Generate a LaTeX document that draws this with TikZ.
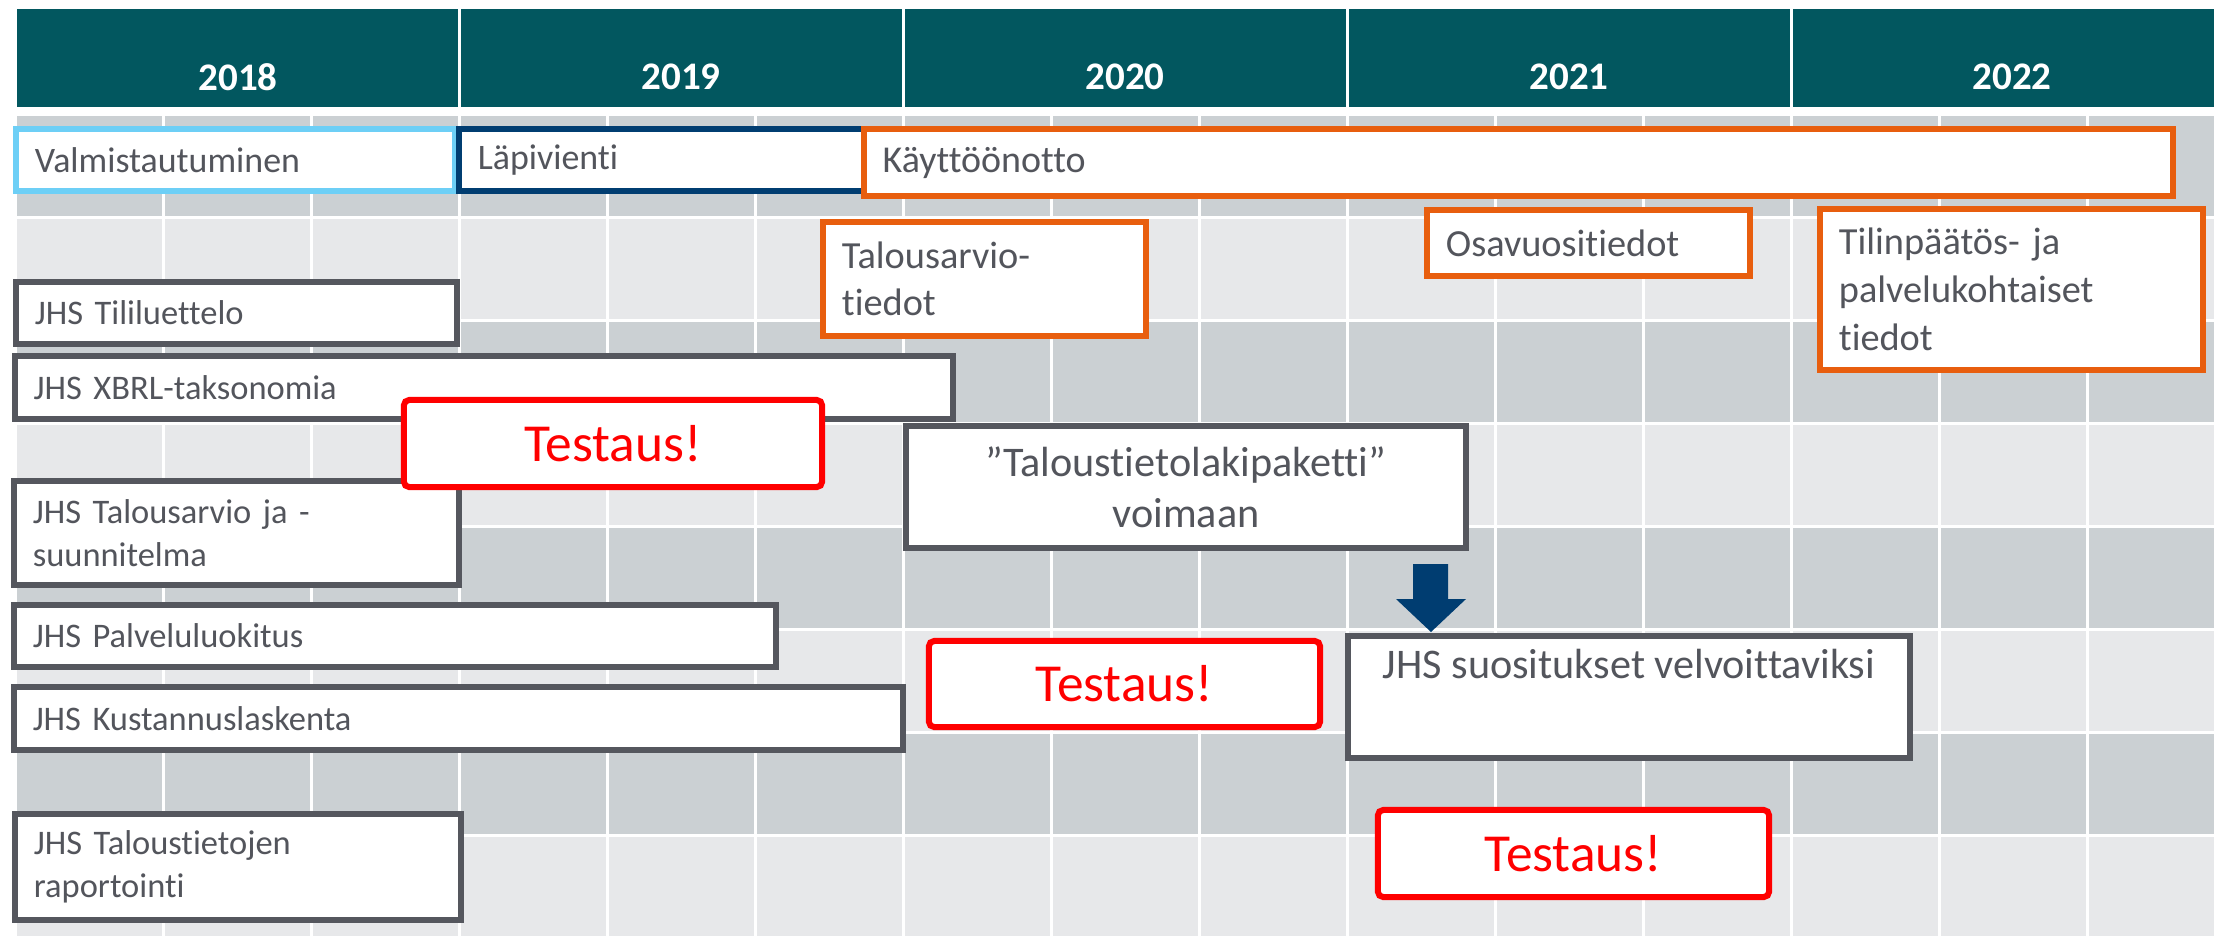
\documentclass[tikz,border=0pt]{standalone}
\usepackage{fontspec}
\setmainfont{Carlito}[Ligatures={NoCommon}]
\definecolor{teal}{HTML}{02575F}
\definecolor{bgdark}{HTML}{CBD0D3}
\definecolor{bglight}{HTML}{E7E8EA}
\definecolor{ltblue}{HTML}{6DCFF6}
\definecolor{navy}{HTML}{003D71}
\definecolor{orng}{HTML}{E85E0E}
\definecolor{gry}{HTML}{55575E}
\definecolor{txt}{HTML}{53555C}
\tikzset{
  bx/.style={draw, line width=0.06cm, fill=white, inner xsep=0.19cm, inner ysep=0pt, text=txt, align=left},
  jhs/.style={bx, draw=gry, font=\fontsize{9.8}{12.3}\selectfont},
  phase/.style={bx, font=\fontsize{10.2}{12.5}\selectfont},
  org/.style={bx, draw=orng, font=\fontsize{10.9}{13.2}\selectfont},
  big/.style={bx, draw=gry, align=center, font=\fontsize{12}{14.5}\selectfont},
  test/.style={draw=red, line width=0.06cm, fill=white, rounded corners=1.5pt, text=red, inner sep=0pt, align=center, font=\fontsize{15.2}{18}\selectfont},
  year/.style={text=white, font=\bfseries\fontsize{11.1}{13}\selectfont, inner sep=0pt},
}
\begin{document}
\begin{tikzpicture}[x=0.01cm,y=-0.01cm]
\useasboundingbox (0,0) rectangle (2214,935);
\begin{scope}
\clip (0,0) rectangle (2214,935);
% header
\fill[teal] (16.5,9) rectangle (2214,107);
\foreach \k in {1,2,3,4} \fill[white] ({16.5+444*\k-3},9) rectangle ++(3,98);
% grid
\foreach \r in {0,2,4,6} \foreach \c in {0,...,14}
  \fill[bgdark] ({16.5+148*\c},{116+103*\r}) rectangle ++(145,100);
\foreach \r in {1,3,5,7} \foreach \c in {0,...,14}
  \fill[bglight] ({16.5+148*\c},{116+103*\r}) rectangle ++(145,100);
\end{scope}
% years
\node[year] (y2018) at (238,77) {2018};
\node[year] (y2019) at (681,77) {2019};
\node[year] (y2020) at (1125,77) {2020};
\node[year] (y2021) at (1569,77) {2021};
\node[year] (y2022) at (2012,77) {2022};
% phases
\node[phase, draw=ltblue, minimum width=4.39cm, minimum height=0.62cm, text width=4.01cm] (valm) at (235.5,160) {Valmistautuminen};
\node[phase, draw=navy, minimum width=4.38cm, minimum height=0.62cm, text width=4.00cm] (lapi) at (678,160) {Läpivienti};
\node[org, font=\fontsize{10.8}{13}\selectfont, minimum width=13.09cm, minimum height=0.67cm, text width=12.71cm] (kayt) at (1518.5,162.5) {Käyttöönotto};
\node[org, minimum width=3.23cm, minimum height=1.14cm, text width=2.85cm] (talous) at (984.5,279) {Talousarvio-\\tiedot};
\node[org, minimum width=3.23cm, minimum height=0.66cm, text width=2.85cm] (osa) at (1588.5,243) {Osavuositiedot};
\node[org, minimum width=3.83cm, minimum height=1.61cm, text width=3.45cm] (tilin) at (2011.5,289.5) {Tilinpäätös- ja\\[0.4pt]palvelukohtaiset\\[0.4pt]tiedot};
% JHS boxes
\node[jhs, minimum width=4.41cm, minimum height=0.62cm, text width=4.03cm] (tili) at (236.5,313) {JHS Tililuettelo};
\node[jhs, minimum width=9.38cm, minimum height=0.63cm, text width=9.00cm] (xbrl) at (484,387.5) {JHS XBRL-taksonomia};
\node[jhs, minimum width=4.45cm, minimum height=1.04cm, text width=4.07cm] (talsuun) at (236.5,533) {JHS Talousarvio ja -\\suunnitelma};
\node[jhs, minimum width=7.62cm, minimum height=0.62cm, text width=7.24cm] (palv) at (395,636) {JHS Palveluluokitus};
\node[jhs, minimum width=8.89cm, minimum height=0.63cm, text width=8.51cm] (kust) at (458.5,718.5) {JHS Kustannuslaskenta};
\node[jhs, minimum width=4.46cm, minimum height=1.06cm, text width=4.08cm] (rap) at (238,867) {JHS Taloustietojen\\raportointi};
% law boxes
\node[big, minimum width=5.60cm, minimum height=1.22cm] (laki) at (1186,487) {”Taloustietolakipaketti”\\voimaan};
\node[big, minimum width=5.62cm, minimum height=1.22cm] (suos) at (1629,697) {JHS suositukset velvoittaviksi\\\strut};
% testing
\node[test, minimum width=4.18cm, minimum height=0.87cm] (test1) at (613,443.5) {Testaus!};
\node[test, minimum width=3.91cm, minimum height=0.86cm] (test2) at (1124.5,684) {Testaus!};
\node[test, minimum width=3.91cm, minimum height=0.87cm] (test3) at (1573.5,853.5) {Testaus!};
% block arrow
\fill[navy] (1413,564) -- (1448,564) -- (1448,599) -- (1466,599) -- (1431,632) -- (1396,599) -- (1413,599) -- cycle;
\end{tikzpicture}
\end{document}
